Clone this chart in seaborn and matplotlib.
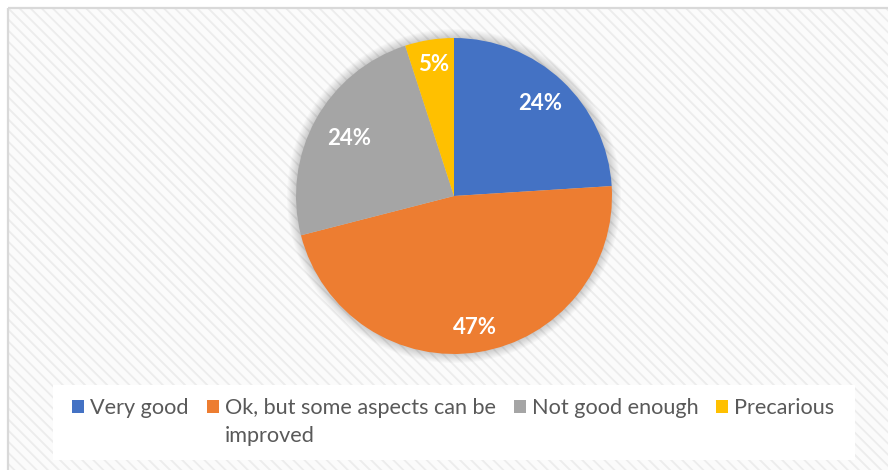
import matplotlib
matplotlib.use("Agg")
import matplotlib.pyplot as plt
import seaborn as sns
import numpy as np
from matplotlib.patches import Rectangle, Circle

# Survey answers and their shares (percent)
categories = ["Very good", "Ok, but some aspects can be\nimproved", "Not good enough", "Precarious"]
shares = [24, 47, 24, 5]
palette = ["#4472C4", "#ED7D31", "#A5A5A5", "#FFC000"]

sns.set_theme(style="white")
plt.rcParams["font.family"] = ["Lato", "DejaVu Sans"]
plt.rcParams["hatch.linewidth"] = 1.3

W, H = 888, 470
fig = plt.figure(figsize=(W / 100, H / 100), dpi=100)
ax = fig.add_axes([0, 0, 1, 1])

# chart area: light diagonal pattern with a thin frame on the top and left
ax.add_patch(Rectangle((8, 0), W - 8, H - 8, facecolor="#FBFBFB", edgecolor="#ECECEC",
                       linewidth=0, hatch="\\\\\\", zorder=0))
ax.plot([8, 8], [0, H - 8], color="#D9D9D9", lw=1.6, zorder=1, solid_capstyle="butt")
ax.plot([8, W], [H - 8, H - 8], color="#D9D9D9", lw=1.6, zorder=1, solid_capstyle="butt")

# legend area
ax.add_patch(Rectangle((53, 10), 802, 75, facecolor="white", edgecolor="none", zorder=1))

cx, cy, R = 454, 274, 158

# soft shadow around the pie
for k in range(9, 0, -1):
    ax.add_patch(Circle((cx, cy), R + k, facecolor="black", edgecolor="none", alpha=0.018, zorder=1))

wedges, _ = ax.pie(shares, colors=sns.color_palette(palette), startangle=90, counterclock=False,
                   center=(cx, cy), radius=R, wedgeprops=dict(linewidth=0, zorder=2))

# percentage labels inside each slice
label_dist = [0.80, 0.84, 0.76, 0.84]
for w, v, d in zip(wedges, shares, label_dist):
    mid = np.deg2rad((w.theta1 + w.theta2) / 2)
    ax.text(cx + d * R * np.cos(mid), cy + d * R * np.sin(mid), f"{v}%",
            ha="center", va="center", color="white", fontweight="bold", fontsize=16, zorder=3)

ax.set_xlim(0, W)
ax.set_ylim(0, H)
ax.set_aspect("equal")
ax.axis("off")

fs = 15.6
px = fs * 100 / 72
first_lines = [c.split("\n")[0] for c in categories]
leg = ax.legend(wedges, first_lines, loc="upper left", bbox_to_anchor=(72, H - 398),
                bbox_transform=ax.transData, ncol=4, frameon=False, fontsize=fs,
                handlelength=12 / px, handleheight=12 / px, handletextpad=6 / px,
                columnspacing=18 / px, borderpad=0, borderaxespad=0)
for t in leg.get_texts():
    t.set_color("#595959")

# wrapped remainder of long legend entries, under their first line
fig.canvas.draw()
for t, c in zip(leg.get_texts(), categories):
    rest = c.split("\n")[1:]
    if rest:
        x0, y0 = t.get_transform().transform(t.get_position())
        for i, line in enumerate(rest, start=1):
            fig.text(x0 / W, (y0 - 28 * i) / H, line, ha="left", va="baseline",
                     fontsize=fs, color="#595959")

fig.savefig("out.png", dpi=100)
